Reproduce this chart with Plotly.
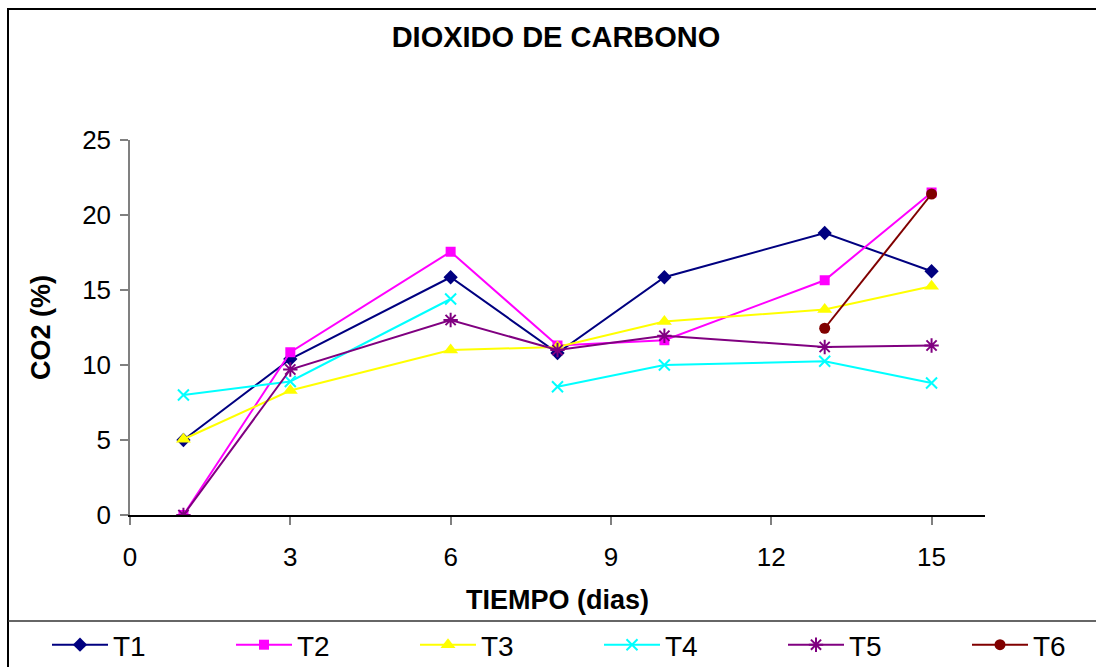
import plotly.graph_objects as go

# Sampling days (x axis)
dias = [1, 3, 6, 8, 10, 13, 15]

# CO2 (%) for each treatment
t1 = [5.0, 10.4, 15.85, 10.8, 15.85, 18.8, 16.25]
t2 = [0.0, 10.85, 17.55, 11.3, 11.65, 15.65, 21.5]
t3 = [5.05, 8.3, 11.0, 11.2, 12.9, 13.7, 15.25]
t4 = [8.0, 8.9, 14.4, 8.55, 10.0, 10.25, 8.8]
t5 = [0.0, 9.7, 13.0, 11.0, 11.95, 11.2, 11.3]
t6 = [None, None, None, None, None, 12.45, 21.4]

# T4 has no line segment between day 6 and day 8
t4_break_after = 6

series = [
    ("T1", t1, "#000080", "diamond", 11),
    ("T2", t2, "#FF00FF", "square", 10),
    ("T3", t3, "#FFFF00", "triangle-up", 13),
    ("T4", t4, "#00FFFF", "x-thin", 11),
    ("T5", t5, "#800080", "asterisk", 12),
    ("T6", t6, "#800000", "circle", 11),
]

W, H = 1096, 667
L, R, T, B = 130, 985, 140, 515  # plot area in pixels

FONT = "Arial, Liberation Sans, sans-serif"

LEG_X0, LEG_STEP, LEG_Y = 47, 184, 645  # legend row placement (px)

fig = go.Figure()
legends = {}
for k, (name, vals, color, sym, size) in enumerate(series):
    xs, ys = list(dias), list(vals)
    if name == "T4":
        i = xs.index(t4_break_after) + 1
        xs.insert(i, None)
        ys.insert(i, None)
    thin = sym in ("x-thin", "asterisk")
    leg_id = "legend" if k == 0 else f"legend{k + 1}"
    fig.add_trace(go.Scatter(
        x=xs, y=ys, name=name, mode="lines+markers",
        connectgaps=False, legend=leg_id,
        line=dict(color=color, width=2),
        marker=dict(symbol=sym, size=size, color=color,
                    line=dict(color=color, width=2 if thin else 0)),
    ))
    legends[leg_id] = dict(
        orientation="h", xref="container", yref="container",
        x=(LEG_X0 + k * LEG_STEP) / W, xanchor="left",
        y=1 - LEG_Y / H, yanchor="middle",
        itemwidth=56, font=dict(size=28, family=FONT),
        bgcolor="rgba(0,0,0,0)",
    )


def px_x(p):
    return (p - L) / (R - L)


def px_y(p):
    return (B - p) / (B - T)


# chart-area frame and legend box
fig.add_shape(type="rect", xref="paper", yref="paper",
              x0=px_x(8), x1=px_x(1110), y0=px_y(9), y1=px_y(680),
              line=dict(color="black", width=2), layer="below")
fig.add_shape(type="line", xref="paper", yref="paper",
              x0=px_x(8), x1=px_x(1110), y0=px_y(621), y1=px_y(621),
              line=dict(color="#333333", width=1.5))

fig.update_layout(
    width=W, height=H,
    margin=dict(l=L, r=W - R, t=T, b=H - B, autoexpand=False),
    paper_bgcolor="white", plot_bgcolor="white",
    font=dict(family=FONT, color="black", size=24),
    title=dict(text="<b>DIOXIDO DE CARBONO</b>", x=(386 + 726) / 2 / W, xanchor="center",
               y=1 - 37 / H, yanchor="middle", font=dict(size=29, family=FONT)),
    showlegend=True,
    **legends,
)

fig.update_xaxes(
    range=[0, 16], tickmode="linear", tick0=0, dtick=3, automargin=False,
    showgrid=False, zeroline=False, showline=True, linecolor="black", linewidth=1.5,
    ticks="outside", ticklen=8, tickcolor="#808080", tickwidth=1.5,
    ticklabelstandoff=10,
    tickfont=dict(size=26, family=FONT),
    title=dict(text="<b>TIEMPO (dias)</b>", font=dict(size=27, family=FONT), standoff=19),
)
fig.update_yaxes(
    range=[0, 25], tickmode="linear", tick0=0, dtick=5, automargin=False,
    showgrid=False, zeroline=False, showline=True, linecolor="#808080", linewidth=1.5,
    ticks="outside", ticklen=8, tickcolor="#808080", tickwidth=1.5,
    ticklabelstandoff=4,
    tickfont=dict(size=26, family=FONT),
    title=dict(text="<b>CO2 (%)</b>", font=dict(size=27, family=FONT), standoff=24),
)

fig.write_html("out.html")
